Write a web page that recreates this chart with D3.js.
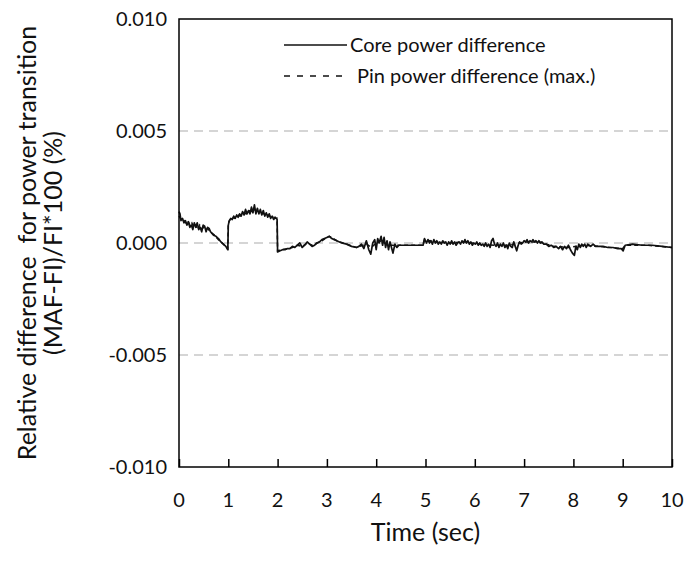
<!DOCTYPE html>
<html>
<head>
<meta charset="utf-8">
<script src="https://cdn.jsdelivr.net/npm/d3@7"></script>
<style>
  body { margin: 0; background: #fff; }
  svg { display: block; font-family: Lato, "Open Sans", sans-serif; }
  .pre { white-space: pre; }
</style>
</head>
<body>
<svg id="chart" width="684" height="561"></svg>
<script>
// core power difference: [time (s), value (%)]
const coreData = [
  [0.00, 0.00140], [0.02, 0.00130], [0.04, 0.00100], [0.07, 0.00110], [0.10, 0.00090],
  [0.13, 0.00100], [0.16, 0.00080], [0.19, 0.00095], [0.22, 0.00070], [0.25, 0.00080],
  [0.28, 0.00060], [0.31, 0.00090], [0.34, 0.00070], [0.37, 0.00090], [0.40, 0.00060],
  [0.43, 0.00070], [0.46, 0.00050], [0.49, 0.00080], [0.52, 0.00075], [0.55, 0.00050],
  [0.58, 0.00070], [0.61, 0.00065], [0.64, 0.00050], [0.70, 0.00035], [0.75, 0.00030],
  [0.80, 0.00020], [0.85, 0.00005], [0.90, -0.00005], [0.95, -0.00015], [0.99, -0.00030],
  [1.00, 0.00080], [1.02, 0.00100], [1.05, 0.00110], [1.08, 0.00105], [1.11, 0.00120],
  [1.14, 0.00110], [1.17, 0.00125], [1.20, 0.00115], [1.23, 0.00130], [1.26, 0.00120],
  [1.29, 0.00140], [1.32, 0.00125], [1.35, 0.00150], [1.38, 0.00130], [1.41, 0.00145],
  [1.44, 0.00130], [1.47, 0.00160], [1.50, 0.00135], [1.53, 0.00170], [1.56, 0.00130],
  [1.59, 0.00155], [1.62, 0.00130], [1.65, 0.00150], [1.68, 0.00125], [1.71, 0.00145],
  [1.74, 0.00120], [1.77, 0.00135], [1.80, 0.00115], [1.83, 0.00130], [1.86, 0.00110],
  [1.89, 0.00120], [1.92, 0.00105], [1.95, 0.00115], [1.99, 0.00105],
  [2.00, -0.00040], [2.05, -0.00035], [2.10, -0.00030], [2.15, -0.00030], [2.20, -0.00025],
  [2.25, -0.00025], [2.30, -0.00015], [2.35, -0.00020], [2.40, -0.00010], [2.45, 0.00000],
  [2.50, -0.00020], [2.55, -0.00010], [2.60, 0.00005], [2.65, -0.00005], [2.70, -0.00015],
  [2.75, -0.00010], [2.80, 0.00000], [2.85, 0.00005], [2.90, 0.00015], [2.95, 0.00020],
  [3.00, 0.00025], [3.05, 0.00030], [3.10, 0.00020], [3.15, 0.00015], [3.20, 0.00010],
  [3.30, 0.00000], [3.40, -0.00005], [3.50, -0.00015], [3.60, -0.00020], [3.65, -0.00015],
  [3.70, -0.00005], [3.75, -0.00025], [3.80, 0.00010], [3.85, -0.00030], [3.89, -0.00050],
  [3.93, 0.00000], [3.97, 0.00015], [4.00, -0.00030], [4.03, 0.00020], [4.06, 0.00000],
  [4.10, 0.00030], [4.13, -0.00010], [4.16, 0.00025], [4.19, -0.00020], [4.22, 0.00010],
  [4.25, -0.00030], [4.28, 0.00005], [4.31, -0.00020], [4.34, -0.00045], [4.38, -0.00005],
  [4.42, -0.00020], [4.46, -0.00010], [4.50, -0.00010], [4.60, -0.00010], [4.70, -0.00010],
  [4.80, -0.00010], [4.95, -0.00010], [4.98, 0.00020], [5.02, 0.00000], [5.05, 0.00015],
  [5.08, 0.00000], [5.11, 0.00010], [5.14, -0.00005], [5.17, 0.00015], [5.20, 0.00000],
  [5.23, 0.00010], [5.26, -0.00005], [5.29, 0.00005], [5.32, -0.00005], [5.35, 0.00010],
  [5.38, 0.00000], [5.41, 0.00005], [5.44, -0.00010], [5.47, 0.00005], [5.50, -0.00005],
  [5.53, 0.00010], [5.56, -0.00005], [5.59, 0.00005], [5.62, -0.00010], [5.65, 0.00000],
  [5.68, 0.00005], [5.71, -0.00005], [5.74, 0.00010], [5.77, 0.00000], [5.80, 0.00015],
  [5.83, 0.00000], [5.86, 0.00010], [5.89, -0.00005], [5.92, 0.00005], [5.95, -0.00010],
  [5.98, 0.00000], [6.01, -0.00005], [6.04, 0.00005], [6.07, -0.00010], [6.10, 0.00000],
  [6.13, -0.00010], [6.16, -0.00005], [6.19, -0.00015], [6.22, 0.00000], [6.25, -0.00015],
  [6.28, -0.00005], [6.31, -0.00020], [6.34, 0.00010], [6.37, 0.00020], [6.40, -0.00005],
  [6.43, -0.00015], [6.46, 0.00000], [6.49, -0.00020], [6.52, -0.00005], [6.55, -0.00015],
  [6.58, 0.00000], [6.61, -0.00020], [6.64, -0.00010], [6.67, -0.00025], [6.70, 0.00000],
  [6.73, -0.00015], [6.76, -0.00020], [6.79, 0.00005], [6.82, -0.00015], [6.85, -0.00035],
  [6.88, -0.00010], [6.91, 0.00005], [6.94, -0.00005], [6.97, 0.00000], [7.00, 0.00010],
  [7.03, 0.00005], [7.06, 0.00015], [7.09, 0.00000], [7.12, 0.00010], [7.15, 0.00005],
  [7.18, 0.00015], [7.21, 0.00005], [7.24, 0.00010], [7.27, 0.00000], [7.30, 0.00010],
  [7.33, 0.00000], [7.36, 0.00005], [7.40, -0.00005], [7.45, -0.00005], [7.50, -0.00015],
  [7.55, -0.00010], [7.60, -0.00020], [7.65, -0.00015], [7.70, -0.00025], [7.74, -0.00015],
  [7.78, -0.00030], [7.82, -0.00015], [7.86, -0.00025], [7.90, -0.00010], [7.94, -0.00030],
  [7.98, -0.00045], [8.02, -0.00055], [8.05, -0.00015], [8.08, -0.00030], [8.11, -0.00005],
  [8.14, -0.00020], [8.17, -0.00005], [8.20, -0.00015], [8.23, -0.00005], [8.26, -0.00020],
  [8.29, -0.00005], [8.32, -0.00010], [8.35, -0.00015], [8.40, -0.00005], [8.45, -0.00015],
  [8.50, -0.00015], [8.60, -0.00015], [8.70, -0.00020], [8.80, -0.00020], [8.90, -0.00025],
  [8.97, -0.00025], [9.01, -0.00035], [9.05, -0.00010], [9.20, -0.00005], [9.40, -0.00010],
  [9.60, -0.00010], [9.80, -0.00015], [10.00, -0.00020]
];

// pin power difference (max.): [time (s), value (%)]
const pinData = [
  [0.00, 0.00120], [0.03, 0.00110], [0.06, 0.00100], [0.10, 0.00100], [0.14, 0.00090],
  [0.18, 0.00100], [0.22, 0.00080], [0.26, 0.00090], [0.30, 0.00070], [0.34, 0.00080],
  [0.38, 0.00060], [0.42, 0.00080], [0.46, 0.00065], [0.50, 0.00070], [0.54, 0.00060],
  [0.58, 0.00065], [0.62, 0.00055], [0.66, 0.00045], [0.72, 0.00035], [0.80, 0.00015],
  [0.90, -0.00005], [0.99, -0.00025], [1.00, 0.00090], [1.04, 0.00105], [1.08, 0.00115],
  [1.12, 0.00110], [1.16, 0.00120], [1.20, 0.00125], [1.24, 0.00120], [1.28, 0.00130],
  [1.32, 0.00135], [1.36, 0.00130], [1.40, 0.00140], [1.44, 0.00145], [1.48, 0.00140],
  [1.52, 0.00150], [1.56, 0.00145], [1.60, 0.00140], [1.64, 0.00135], [1.68, 0.00135],
  [1.72, 0.00130], [1.76, 0.00125], [1.80, 0.00125], [1.84, 0.00120], [1.88, 0.00115],
  [1.92, 0.00115], [1.96, 0.00110], [1.99, 0.00110], [2.00, -0.00035], [2.10, -0.00030],
  [2.20, -0.00025], [2.30, -0.00020], [2.40, -0.00010], [2.50, -0.00015], [2.60, 0.00000],
  [2.70, -0.00010], [2.80, 0.00000], [2.90, 0.00010], [3.00, 0.00025], [3.05, 0.00030],
  [3.20, 0.00010], [3.40, -0.00005], [3.60, -0.00020], [3.80, -0.00005], [3.90, -0.00020],
  [4.00, 0.00000], [4.10, 0.00010], [4.20, -0.00005], [4.30, -0.00010], [4.40, -0.00010],
  [4.60, -0.00010], [4.95, -0.00010], [4.98, 0.00015], [5.20, 0.00005], [5.50, 0.00000],
  [5.80, 0.00005], [6.10, -0.00005], [6.40, -0.00010], [6.70, -0.00010], [7.00, 0.00005],
  [7.30, 0.00005], [7.60, -0.00015], [7.90, -0.00020], [8.20, -0.00010], [8.50, -0.00015],
  [9.00, -0.00025], [9.05, -0.00010], [9.50, -0.00010], [10.00, -0.00020]
];

const xTicks = [0, 1, 2, 3, 4, 5, 6, 7, 8, 9, 10];
const yTicks = [-0.010, -0.005, 0.000, 0.005, 0.010];
const gridValues = [-0.005, 0.000, 0.005];
const legendLabels = ["Core power difference", "Pin power difference (max.)"];

const svg = d3.select("#chart");
const margin = { left: 179, right: 12, top: 19, bottom: 94 };
const width = 684, height = 561;
const tickFont = 20, titleFont = 25, legendFont = 20;

const x = d3.scaleLinear().domain([0, 10]).range([margin.left, width - margin.right]);
const y = d3.scaleLinear().domain([-0.010, 0.010]).range([height - margin.bottom, margin.top]);

// gridlines
svg.append("g")
  .selectAll("line")
  .data(gridValues)
  .join("line")
  .attr("x1", x(0)).attr("x2", x(10))
  .attr("y1", d => y(d)).attr("y2", d => y(d))
  .attr("stroke", "#c8c8c8")
  .attr("stroke-width", 1.5)
  .attr("stroke-dasharray", "9,6");

const line = d3.line().x(d => x(d[0])).y(d => y(d[1]));

svg.append("path")
  .datum(pinData)
  .attr("fill", "none")
  .attr("stroke", "#111")
  .attr("stroke-width", 1.5)
  .attr("stroke-dasharray", "4,3")
  .attr("d", line);

svg.append("path")
  .datum(coreData)
  .attr("fill", "none")
  .attr("stroke", "#111")
  .attr("stroke-width", 1.7)
  .attr("stroke-linejoin", "round")
  .attr("d", line);

// frame
svg.append("rect")
  .attr("x", x(0)).attr("y", y(0.010))
  .attr("width", x(10) - x(0)).attr("height", y(-0.010) - y(0.010))
  .attr("fill", "none")
  .attr("stroke", "#000")
  .attr("stroke-width", 1.5);

// x axis (ticks pointing inward)
const xAxis = svg.append("g")
  .attr("transform", `translate(0,${y(-0.010)})`)
  .call(d3.axisTop(x).tickValues(xTicks).tickSize(8).tickFormat(""));
xAxis.select(".domain").remove();
xAxis.selectAll("line").attr("stroke", "#000").attr("stroke-width", 1.5);

svg.append("g")
  .selectAll("text")
  .data(xTicks)
  .join("text")
  .attr("x", d => x(d))
  .attr("y", y(-0.010) + 33)
  .attr("dy", "0.35em")
  .attr("text-anchor", "middle")
  .attr("font-size", tickFont)
  .attr("fill", "#111")
  .text(d => d);

svg.append("g")
  .selectAll("text")
  .data(yTicks)
  .join("text")
  .attr("x", x(0) - 12)
  .attr("y", d => y(d))
  .attr("dy", "0.35em")
  .attr("text-anchor", "end")
  .attr("font-size", tickFont)
  .attr("fill", "#111")
  .text(d => d3.format(".3f")(d).replace("−", "-"));

svg.append("text")
  .attr("x", (x(0) + x(10)) / 2)
  .attr("y", 532)
  .attr("dy", "0.35em")
  .attr("text-anchor", "middle")
  .attr("font-size", titleFont)
  .attr("fill", "#111")
  .text("Time (sec)");

const yTitle = svg.append("text")
  .attr("class", "pre")
  .attr("transform", `translate(36,${y(0)}) rotate(-90)`)
  .attr("text-anchor", "middle")
  .attr("font-size", titleFont)
  .attr("fill", "#111");
yTitle.append("tspan").attr("x", 0).attr("dy", 0).text("Relative difference  for power transition");
yTitle.append("tspan").attr("x", 0).attr("dy", 26).text("(MAF-FI)/FI*100 (%)");

// legend
const legend = svg.append("g");
legendLabels.forEach((label, i) => {
  const ly = 45 + i * 31;
  legend.append("line")
    .attr("x1", 284).attr("x2", i === 0 ? 347 : 345)
    .attr("y1", ly).attr("y2", ly)
    .attr("stroke", "#111")
    .attr("stroke-width", 1.5)
    .attr("stroke-dasharray", i === 0 ? null : "6,7");
  legend.append("text")
    .attr("x", i === 0 ? 350 : 357)
    .attr("y", ly)
    .attr("dy", "0.35em")
    .attr("font-size", legendFont)
    .attr("fill", "#111")
    .text(label);
});
</script>
</body>
</html>
